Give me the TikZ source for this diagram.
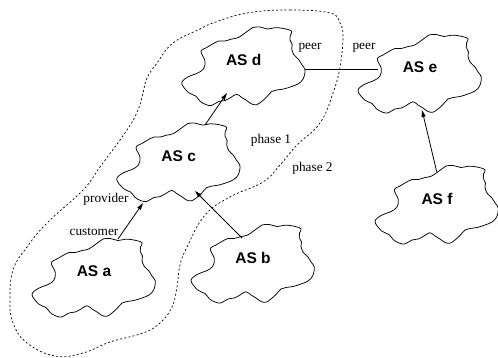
\documentclass[tikz,border=0pt]{standalone}
\usepackage{fontspec}
\setmainfont{Liberation Serif}
\setsansfont{Liberation Sans}
\usetikzlibrary{shapes.geometric,arrows.meta}
\tikzset{
  asnode/.style={ellipse, minimum width=122pt, minimum height=78pt, inner sep=0pt},
  aslabel/.style={font=\sffamily\bfseries\fontsize{15.5}{18}\selectfont, inner sep=0pt, yshift=5.5pt},
  cloudline/.style={line width=0.75pt, line join=round},
  edge/.style={line width=0.8pt},
  arr/.style={edge, -{Triangle[length=7pt,width=4pt]}},
  lbl/.style={font=\fontsize{13.3}{15}\selectfont, inner sep=0pt},
  phase/.style={dash pattern=on 2pt off 2.2pt, line width=0.7pt},
  cloud/.pic={\draw[cloudline] plot[smooth cycle, tension=0.6] coordinates {
    (48,-34.3) (40,-37) (31.3,-37.8) (24,-36.5) (16.3,-38.5) (9,-38) (4.7,-35)
    (-5.3,-28) (-12,-26.5) (-18.7,-24.5) (-25,-24.5) (-32,-21) (-37,-18)
    (-42.7,-14) (-38.7,-4.5) (-40.3,3.5) (-47,8) (-55.3,11.2) (-62,17.5)
    (-55.3,27) (-48,30.5) (-43.7,35.7) (-38,39) (-32,39.9) (-25,36) (-18.7,35)
    (-13,32) (-7,28.7) (-2,32) (3,35) (8,38.5) (13,39.2) (18,36) (23,31.5)
    (28,26) (33,24.5) (40,23.5) (48,21) (55,18) (59.7,12.9) (61.3,4.2)
    (58,-1) (54.7,-6.3) (50,-11) (48,-16.8) (48.5,-21) (46.3,-25.5) (46.5,-30)};}
}
\begin{document}
\begin{tikzpicture}[x=1pt, y=-1pt]
\useasboundingbox (0,0) rectangle (498,358);
% phase boundary
\draw[phase] plot[smooth cycle, tension=0.7] coordinates {
  (247,13) (290,10) (330,13) (340,23) (343,37) (340,67) (333,93) (320,123)
  (297,145) (280,165) (263,182) (230,197) (205,215) (187,247) (180,265)
  (177,287) (172,307) (160,323) (143,333) (110,342) (83,353) (55,356)
  (27,343) (13,323) (10,300) (13,270) (27,247) (47,223) (83,190) (100,167)
  (127,130) (138,110) (143,93) (147,78) (157,63) (173,43) (200,29) (213,23)};
% AS nodes
\node[asnode, label={[aslabel]center:AS a}] (a) at (94,277) {};
\node[asnode, label={[aslabel]center:AS b}] (b) at (253,263) {};
\node[asnode, label={[aslabel]center:AS c}] (c) at (178.7,161.6) {};
\node[asnode, label={[aslabel]center:AS d}] (d) at (243.7,65.5) {};
\node[asnode, label={[aslabel]center:AS e}] (e) at (420,73) {};
\node[asnode, label={[aslabel]center:AS f}] (f) at (437,204) {};
\foreach \n in {a,b,c,d,e,f} \pic at (\n) {cloud};
% connectors
\draw[arr] ([shift={(24,-38)}]a.center) -- ([shift={(-35.7,41.4)}]c.center);
\draw[arr] ([shift={(-11,-25)}]b.center) -- ([shift={(16.3,29.4)}]c.center);
\draw[arr] ([shift={(26.3,-36.6)}]c.center) -- ([shift={(-16.7,27.5)}]d.center);
\draw[arr] ([shift={(-0.3,-32.3)}]f.center) -- ([shift={(2,37)}]e.center);
\draw[edge] ([shift={(61.3,3.5)}]d.center) -- ([shift={(-42,-4)}]e.center);
% labels
\node[lbl] (peerd) at (310,47.5) {peer};
\node[lbl] (peere) at (364,47.5) {peer};
\node[lbl] (ph1) at (271,140) {phase 1};
\node[lbl] (ph2) at (312.5,168) {phase 2};
\node[lbl] (prov) at (106,199) {provider};
\node[lbl] (cust) at (94,232) {customer};
\end{tikzpicture}
\end{document}
